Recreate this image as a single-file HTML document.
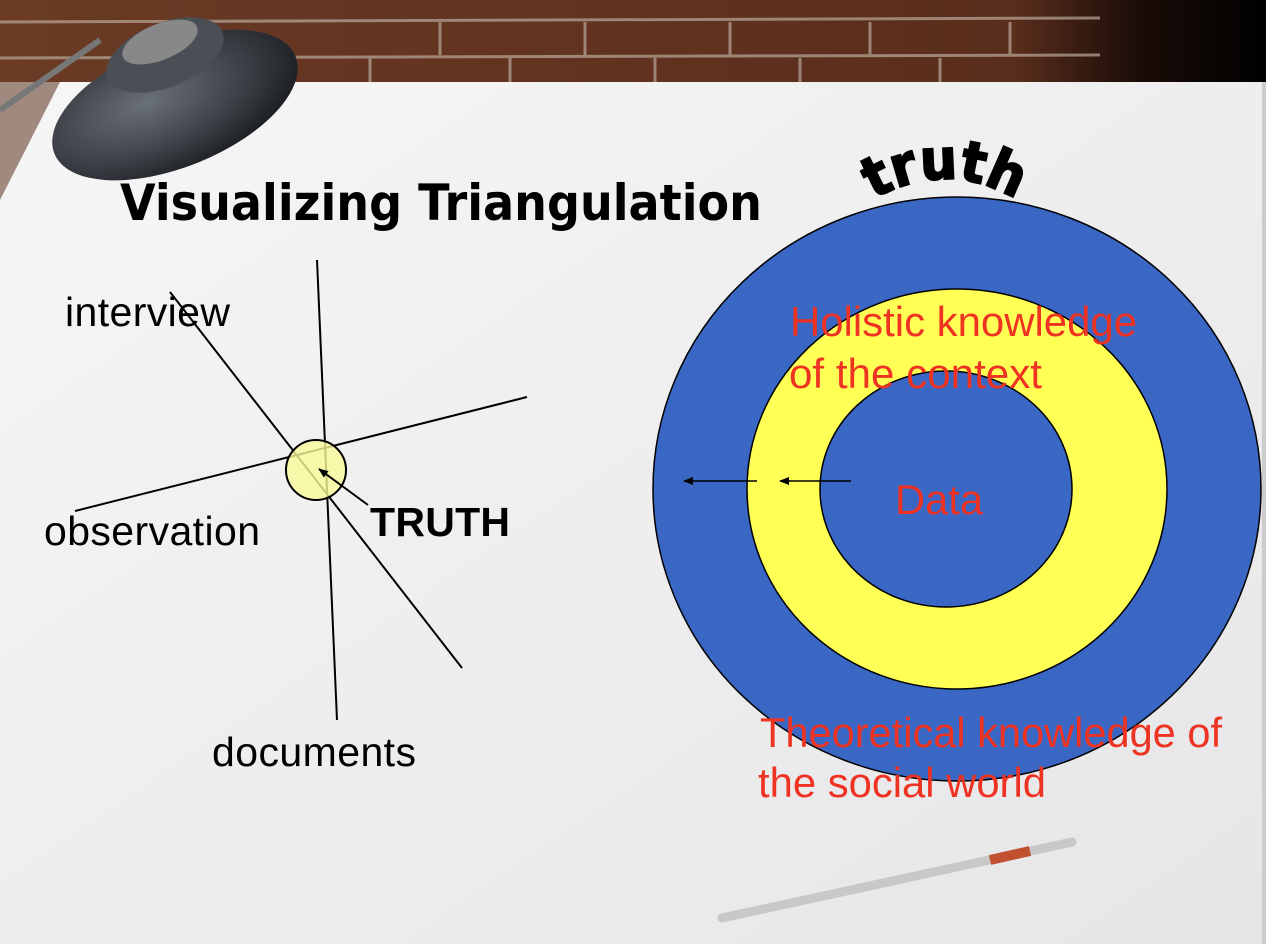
<!DOCTYPE html>
<html><head><meta charset="utf-8"><style>html,body{margin:0;padding:0;background:#fff}svg{display:block}</style></head>
<body>
<svg width="1266" height="944" viewBox="0 0 1266 944" xmlns="http://www.w3.org/2000/svg">
<defs>
<linearGradient id="brick" x1="0" x2="1" y1="0" y2="0">
<stop offset="0" stop-color="#6a3a24"/><stop offset="0.8" stop-color="#5a2e1c"/><stop offset="0.9" stop-color="#1a0c08"/><stop offset="1" stop-color="#000"/>
</linearGradient>
<linearGradient id="paper" x1="0" x2="1" y1="0" y2="1">
<stop offset="0" stop-color="#f6f6f6"/><stop offset="1" stop-color="#e6e6e8"/>
</linearGradient>
<radialGradient id="lamp" cx="0.4" cy="0.4" r="0.7">
<stop offset="0" stop-color="#6a7078"/><stop offset="0.6" stop-color="#3a3e44"/><stop offset="1" stop-color="#15171a"/>
</radialGradient>
<marker id="ah" markerWidth="10" markerHeight="8" refX="9" refY="4" orient="auto" markerUnits="userSpaceOnUse"><path d="M0,0 L10,4 L0,8 z" fill="#000"/></marker>
<path id="arc" d="M860,208 Q945,150 1030,208"/>
</defs>
<rect width="1266" height="944" fill="#d8d8d8"/>
<rect width="1266" height="82" fill="url(#brick)"/>
<g stroke="#b9a89a" stroke-width="3" opacity="0.7">
<line x1="0" y1="22" x2="1100" y2="18"/><line x1="0" y1="58" x2="1100" y2="55"/>
<line x1="440" y1="22" x2="440" y2="55"/><line x1="585" y1="22" x2="585" y2="55"/><line x1="730" y1="22" x2="730" y2="55"/><line x1="870" y1="22" x2="870" y2="55"/><line x1="1010" y1="22" x2="1010" y2="55"/>
<line x1="370" y1="58" x2="370" y2="82"/><line x1="510" y1="58" x2="510" y2="82"/><line x1="655" y1="58" x2="655" y2="82"/><line x1="800" y1="58" x2="800" y2="82"/><line x1="940" y1="58" x2="940" y2="82"/>
</g>
<polygon points="0,82 0,944 1262,944 1262,82" fill="#a08a80"/>
<polygon points="60,82 1262,82 1262,944 0,944 0,200" fill="url(#paper)"/>
<rect x="1262" y="82" width="4" height="862" fill="#ccc"/>
<g>
<line x1="0" y1="110" x2="100" y2="40" stroke="#777" stroke-width="6"/>
<ellipse cx="175" cy="105" rx="130" ry="62" transform="rotate(-22 175 105)" fill="url(#lamp)"/>
<ellipse cx="165" cy="55" rx="62" ry="32" transform="rotate(-22 165 55)" fill="#4a4f55"/>
<ellipse cx="160" cy="42" rx="40" ry="18" transform="rotate(-22 160 42)" fill="#888"/>
</g>
<line x1="722" y1="918" x2="1072" y2="842" stroke="#c8c8c8" stroke-width="9" stroke-linecap="round"/>
<line x1="990" y1="860" x2="1030" y2="851" stroke="#c05030" stroke-width="10"/>
<text x="120" y="220" font-family="'DejaVu Sans','Liberation Sans',sans-serif" font-weight="bold" font-size="50" textLength="642" lengthAdjust="spacingAndGlyphs" fill="#000">Visualizing Triangulation</text>
<g stroke="#000" stroke-width="2" fill="none">
<line x1="170" y1="292" x2="462" y2="668"/>
<line x1="317" y1="260" x2="337" y2="720"/>
<line x1="75" y1="511" x2="527" y2="397"/>
</g>
<circle cx="316" cy="470" r="30" fill="#fafa9a" fill-opacity="0.8" stroke="#000" stroke-width="2"/>
<line x1="368" y1="505" x2="319" y2="469" stroke="#000" stroke-width="2" marker-end="url(#ah)"/>
<g font-family="'Liberation Sans',sans-serif" font-size="41" fill="#000" lengthAdjust="spacingAndGlyphs">
<text x="65" y="326" textLength="165">interview</text>
<text x="44" y="545" textLength="216">observation</text>
<text x="212" y="766" textLength="204">documents</text>
<text x="370" y="536" font-weight="bold" textLength="140">TRUTH</text>
</g>
<ellipse cx="957" cy="489" rx="304" ry="292" fill="#3a67c4" stroke="#000" stroke-width="1.5"/>
<ellipse cx="957" cy="489" rx="210" ry="200" fill="#ffff55" stroke="#000" stroke-width="1.5"/>
<ellipse cx="946" cy="489" rx="126" ry="118" fill="#3a67c4" stroke="#000" stroke-width="1.5"/>
<line x1="757" y1="481" x2="684" y2="481" stroke="#000" stroke-width="1.5" marker-end="url(#ah)"/>
<line x1="851" y1="481" x2="780" y2="481" stroke="#000" stroke-width="1.5" marker-end="url(#ah)"/>
<g font-family="'Liberation Sans',sans-serif" font-size="42" fill="#ee3322">
<text x="790" y="336" textLength="347" lengthAdjust="spacingAndGlyphs">Holistic knowledge</text>
<text x="789" y="388" textLength="253" lengthAdjust="spacingAndGlyphs">of the context</text>
<text x="895" y="514" textLength="88" lengthAdjust="spacingAndGlyphs">Data</text>
<text x="760" y="747" textLength="462" lengthAdjust="spacingAndGlyphs">Theoretical knowledge of</text>
<text x="758" y="797" textLength="288" lengthAdjust="spacingAndGlyphs">the social world</text>
</g>
<text font-family="'DejaVu Sans','Liberation Sans',sans-serif" font-weight="bold" font-size="56" fill="#000" stroke="#000" stroke-width="2"><textPath href="#arc" startOffset="50%" text-anchor="middle" textLength="150" lengthAdjust="spacingAndGlyphs">truth</textPath></text>
</svg>
</body></html>
